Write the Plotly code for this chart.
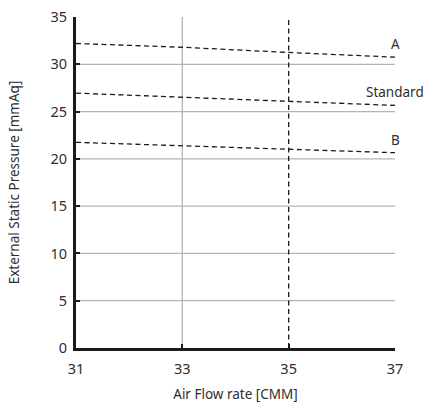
import plotly.graph_objects as go

# Air flow rate [CMM] and external static pressure [mmAq]
airflow = [31, 33, 35, 37]
curve_a = [32.2, 31.8, 31.25, 30.75]
curve_standard = [26.95, 26.5, 26.07, 25.65]
curve_b = [21.75, 21.4, 21.0, 20.65]
curve_names = ["A", "Standard", "B"]

x_ticks = [31, 33, 35, 37]
y_ticks = [0, 5, 10, 15, 20, 25, 30, 35]
h_grid = [5, 10, 15, 20, 25, 30]
v_grid = [33]
rated_flow = 35

font_family = "Noto Sans, DejaVu Sans, sans-serif"
text_color = "#2e2e2e"
dash_style = "5px,3.5px"

fig = go.Figure()

for name, ys in zip(curve_names, [curve_a, curve_standard, curve_b]):
    fig.add_trace(go.Scatter(
        x=airflow, y=ys, mode="lines", name=name,
        line=dict(color="#1a1a1a", width=1.3, dash=dash_style),
        showlegend=False, hoverinfo="skip",
    ))
    fig.add_annotation(
        x=airflow[-1], y=ys[-1], text=name, showarrow=False,
        xanchor="center", yanchor="bottom", yshift=2,
        font=dict(family=font_family, size=13.5, color=text_color),
    )

shapes = []
for g in h_grid:
    shapes.append(dict(type="line", xref="x", yref="y", x0=x_ticks[0], x1=x_ticks[-1],
                       y0=g, y1=g, layer="below",
                       line=dict(color="#b4b4b4", width=1.3)))
for g in v_grid:
    shapes.append(dict(type="line", xref="x", yref="y", x0=g, x1=g,
                       y0=y_ticks[0], y1=y_ticks[-1], layer="below",
                       line=dict(color="#b4b4b4", width=1.3)))
shapes.append(dict(type="line", xref="x", yref="y", x0=rated_flow, x1=rated_flow,
                   y0=y_ticks[0], y1=y_ticks[-1],
                   line=dict(color="#1a1a1a", width=1.3, dash=dash_style)))

fig.update_layout(
    width=428, height=407,
    margin=dict(l=76, r=33, t=17, b=59),
    paper_bgcolor="white", plot_bgcolor="white",
    shapes=shapes,
    font=dict(family=font_family, color=text_color),
)

fig.update_xaxes(
    range=[x_ticks[0], x_ticks[-1]], tickvals=x_ticks,
    showgrid=False, zeroline=False, automargin=False,
    showline=True, linecolor="#1a1a1a", linewidth=3,
    ticks="inside", ticklen=4, tickwidth=2, tickcolor="#1a1a1a",
    ticklabelstandoff=6,
    tickfont=dict(size=14.5, color=text_color),
    title=dict(text="Air Flow rate [CMM]", font=dict(size=13.5, color=text_color), standoff=13),
)
fig.update_yaxes(
    range=[y_ticks[0], y_ticks[-1]], tickvals=y_ticks,
    showgrid=False, zeroline=False, automargin=False,
    showline=True, linecolor="#1a1a1a", linewidth=3,
    ticks="inside", ticklen=4, tickwidth=2, tickcolor="#1a1a1a",
    ticklabelstandoff=3,
    tickfont=dict(size=14.5, color=text_color),
    title=dict(text="External Static Pressure [mmAq]", font=dict(size=13.5, color=text_color), standoff=28),
)

fig.write_html("out.html")
